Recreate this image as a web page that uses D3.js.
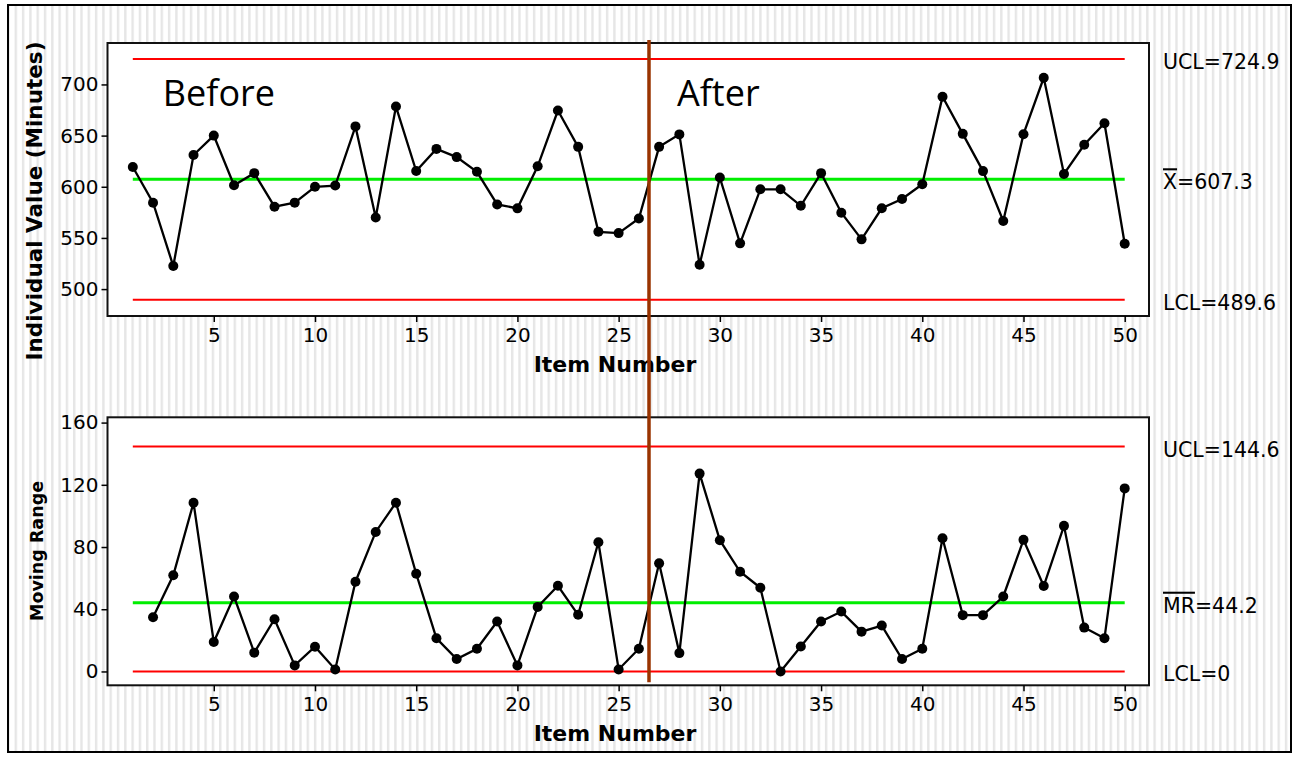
<!DOCTYPE html>
<html lang="en">
<head>
<meta charset="UTF-8">
<title>I-MR Chart Before / After</title>
<style>
  body { margin: 0; background: #fff; }
  svg { display: block; }
  .tick text { font-family: "DejaVu Sans", sans-serif; font-size: 20px; fill: #000; }
  .tick line { stroke: #000; stroke-width: 1.5px; }
  .axis-title { font-family: "DejaVu Sans", sans-serif; font-weight: bold; fill: #000; }
  .limit-label { font-family: "DejaVu Sans", sans-serif; font-size: 20.5px; fill: #000; }
  .phase-label { font-family: "Open Sans", sans-serif; font-size: 36px; fill: #000; }
</style>
</head>
<body>
<script src="https://d3js.org/d3.v7.min.js"></script>
<script>
// data
var itemNumbers = d3.range(1, 51);
var individualValues = [619.3, 584.4, 522.5, 631, 650, 601.5, 613.3, 580.5, 584.5, 600,
  601.2, 659, 570, 678.4, 615.4, 637, 629, 614.6, 582.7, 578.9,
  620, 674.5, 639, 556, 554.7, 569, 639, 651.2, 523.7, 609,
  544.7, 597.5, 597.5, 581.4, 613.3, 574.6, 548.6, 579, 588, 602.5,
  688, 651.7, 615.3, 566.6, 651.4, 706.5, 612.5, 641, 662, 544.3];
var mrItems = d3.range(2, 51);
var movingRanges = [34.9, 61.8, 108.5, 18.9, 48.2, 12.1, 33.6, 3.9, 15.9, 1.3,
  57.7, 89.7, 108.5, 62.8, 21.3, 8.0, 14.6, 32.1, 3.9, 41.5,
  55.1, 36.4, 83.1, 1.3, 14.6, 69.5, 11.8, 127.2, 84.4, 64.1,
  53.8, 0, 16.1, 32.1, 38.5, 25.6, 29.5, 8.0, 14.6, 85.6,
  36.2, 36.2, 48.2, 84.6, 54.9, 93.6, 28.2, 21.3, 117.7];

var iLimits = [724.9, 607.3, 489.6];
var iLimitNames = ["UCL", "X", "LCL"];
var mrLimits = [144.6, 44.2, 0];
var mrLimitNames = ["UCL", "MR", "LCL"];
var limitColors = ["#ff0000", "#00ee00", "#ff0000"];

var xTicks = [5, 10, 15, 20, 25, 30, 35, 40, 45, 50];
var iTicks = [500, 550, 600, 650, 700];
var mrTicks = [0, 40, 80, 120, 160];

var phaseBreak = 26.5;
var phaseLabels = ["Before", "After"];

var W = 1299, H = 760;
var box = { left: 107.5, right: 1149 };
var topBox = { top: 43, bottom: 316 };
var botBox = { top: 417.3, bottom: 685.3 };

var svg = d3.select("body").append("svg")
  .attr("width", W).attr("height", H);

// pinstripe background
var defs = svg.append("defs");
var pat = defs.append("pattern")
  .attr("id", "stripes")
  .attr("patternUnits", "userSpaceOnUse")
  .attr("width", 7.3).attr("height", 10);
pat.append("rect").attr("width", 7.3).attr("height", 10).attr("fill", "#fff");
pat.append("rect").attr("x", 0).attr("width", 2.4).attr("height", 10).attr("fill", "#e6e6e6");

svg.append("rect").attr("width", W).attr("height", H).attr("fill", "#fff");
svg.append("rect")
  .attr("x", 8).attr("y", 5).attr("width", 1283).attr("height", 747)
  .attr("fill", "url(#stripes)")
  .attr("stroke", "#000").attr("stroke-width", 2);

var x = d3.scaleLinear().domain([-0.25, 51.2]).range([box.left, box.right]);
var yI = d3.scaleLinear().domain([473.7, 740.5]).range([topBox.bottom, topBox.top]);
var yMR = d3.scaleLinear().domain([-8.9, 163.4]).range([botBox.bottom, botBox.top]);

function panel(b, y, ticks, xs, vals, limits, limitNames) {
  var g = svg.append("g");
  g.append("rect")
    .attr("x", box.left).attr("y", b.top)
    .attr("width", box.right - box.left).attr("height", b.bottom - b.top)
    .attr("fill", "#fff").attr("stroke", "#111").attr("stroke-width", 2);

  var yAxis = g.append("g")
    .attr("transform", "translate(" + box.left + ",0)")
    .call(d3.axisLeft(y).tickValues(ticks).tickSize(6).tickPadding(3).tickFormat(d3.format("d")));
  yAxis.select(".domain").remove();

  var xAxis = g.append("g")
    .attr("transform", "translate(0," + b.bottom + ")")
    .call(d3.axisBottom(x).tickValues(xTicks).tickSize(6).tickPadding(6).tickFormat(d3.format("d")));
  xAxis.select(".domain").remove();

  // control limit lines
  g.selectAll(".limit").data(limits).enter().append("line")
    .attr("x1", x(1)).attr("x2", x(50))
    .attr("y1", function(d) { return y(d); })
    .attr("y2", function(d) { return y(d); })
    .attr("stroke", function(d, i) { return limitColors[i]; })
    .attr("stroke-width", function(d, i) { return i == 1 ? 3 : 2; });

  var lab = g.selectAll(".limit-label").data(limits).enter().append("text")
    .attr("class", "limit-label")
    .attr("x", box.right + 14)
    .attr("y", function(d) { return y(d) + 10; });
  lab.append("tspan")
    .style("text-decoration", function(d, i) { return i == 1 ? "overline" : "none"; })
    .text(function(d, i) { return limitNames[i]; });
  lab.append("tspan").text(function(d) { return "=" + d; });

  var line = d3.line()
    .x(function(d, i) { return x(xs[i]); })
    .y(function(d) { return y(d); });

  g.append("path").datum(vals)
    .attr("d", line)
    .attr("fill", "none").attr("stroke", "#000").attr("stroke-width", 2.3);

  g.selectAll(".pt").data(vals).enter().append("circle")
    .attr("cx", function(d, i) { return x(xs[i]); })
    .attr("cy", function(d) { return y(d); })
    .attr("r", 5).attr("fill", "#000");

  g.append("text").attr("class", "axis-title")
    .attr("x", 615)
    .attr("y", b.bottom + 56)
    .attr("text-anchor", "middle")
    .style("font-size", "22px")
    .text("Item Number");
  return g;
}

panel(topBox, yI, iTicks, itemNumbers, individualValues, iLimits, iLimitNames);
panel(botBox, yMR, mrTicks, mrItems, movingRanges, mrLimits, mrLimitNames);

// phase labels
svg.append("text").attr("class", "phase-label")
  .attr("x", x(1) + 30).attr("y", topBox.top + 63)
  .text(phaseLabels[0]);
svg.append("text").attr("class", "phase-label")
  .attr("x", x(phaseBreak) + 28).attr("y", topBox.top + 63)
  .text(phaseLabels[1]);

// phase divider
svg.append("line")
  .attr("x1", x(phaseBreak)).attr("x2", x(phaseBreak))
  .attr("y1", topBox.top - 3).attr("y2", botBox.bottom - 3)
  .attr("stroke", "#993300").attr("stroke-width", 3.5);

// y titles
svg.append("text").attr("class", "axis-title")
  .attr("transform", "translate(42," + 201 + ") rotate(-90)")
  .attr("text-anchor", "middle")
  .style("font-size", "21.5px")
  .text("Individual Value (Minutes)");
svg.append("text").attr("class", "axis-title")
  .attr("transform", "translate(43," + 551 + ") rotate(-90)")
  .attr("text-anchor", "middle")
  .style("font-size", "17.5px")
  .text("Moving Range");
</script>
</body>
</html>
